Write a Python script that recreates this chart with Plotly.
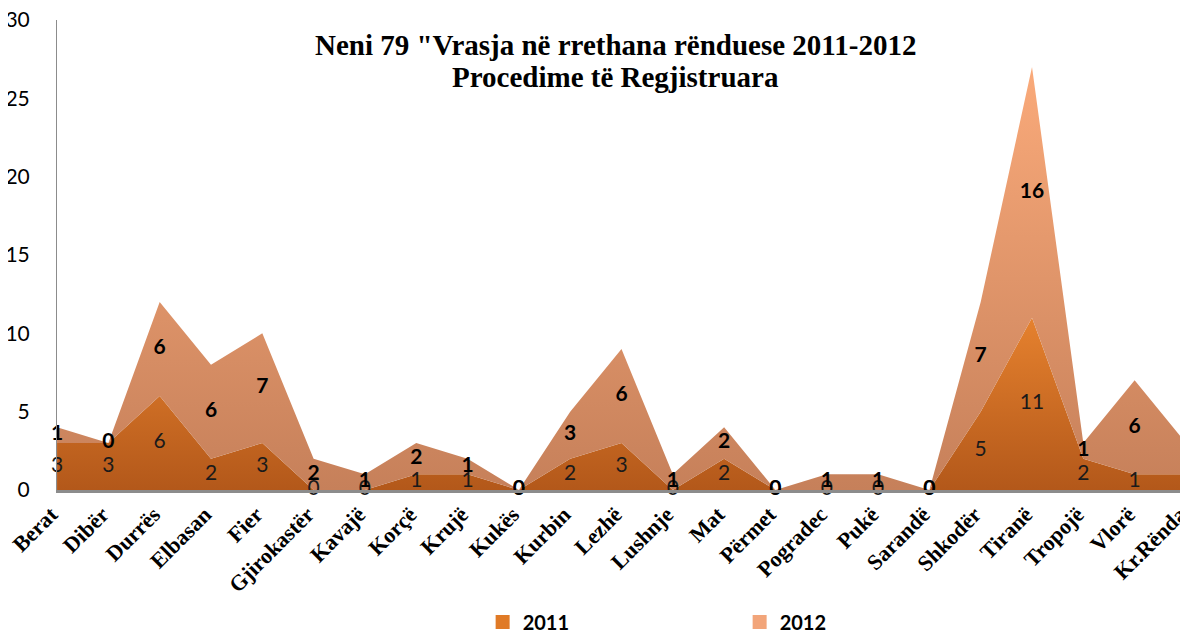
import plotly.graph_objects as go

categories = ["Berat", "Dibër", "Durrës", "Elbasan", "Fier", "Gjirokastër", "Kavajë", "Korçë",
              "Krujë", "Kukës", "Kurbin", "Lezhë", "Lushnje", "Mat", "Përmet", "Pogradec",
              "Pukë", "Sarandë", "Shkodër", "Tiranë", "Tropojë", "Vlorë", "Kr.Rënda"]
values_2011 = [3, 3, 6, 2, 3, 0, 0, 1, 1, 0, 2, 3, 0, 2, 0, 0, 0, 0, 5, 11, 2, 1, 1]
values_2012 = [1, 0, 6, 6, 7, 2, 1, 2, 1, 0, 3, 6, 1, 2, 0, 1, 1, 0, 7, 16, 1, 6, 2]
y_ticks = [0, 5, 10, 15, 20, 25, 30]
title_lines = ["Neni 79 \"Vrasja në rrethana rënduese 2011-2012", "Procedime të Regjistruara"]

x = list(range(len(categories)))
top_2012 = [a + b for a, b in zip(values_2011, values_2012)]
mid_2011 = [a / 2 for a in values_2011]
mid_2012 = [a + b / 2 for a, b in zip(values_2011, values_2012)]

SERIF = "Liberation Serif, Times New Roman, serif"
SANS = "Lato, sans-serif"

fig = go.Figure()
fig.add_trace(go.Scatter(
    x=x, y=values_2011, mode="lines", line=dict(width=0, color="#D06A1E"),
    fill="tozeroy",
    fillgradient=dict(type="vertical", start=0, stop=12,
                      colorscale=[[0, "#B3581A"], [1, "#EA8530"]]),
    showlegend=False, hoverinfo="skip"))
fig.add_trace(go.Scatter(
    x=x, y=top_2012, mode="lines", line=dict(width=0, color="#E09870"),
    fill="tonexty",
    fillgradient=dict(type="vertical", start=0, stop=27,
                      colorscale=[[0, "#C6805A"], [1, "#FAAA7A"]]),
    showlegend=False, hoverinfo="skip"))

fig.add_trace(go.Scatter(
    x=x, y=mid_2011, mode="text", text=[str(v) for v in values_2011],
    textfont=dict(family=SANS, size=21, color="#1a1a1a"),
    showlegend=False, hoverinfo="skip", cliponaxis=False))
fig.add_trace(go.Scatter(
    x=x, y=mid_2012, mode="text", text=[f"<b>{v}</b>" for v in values_2012],
    textfont=dict(family=SANS, size=21, color="#000000"),
    showlegend=False, hoverinfo="skip", cliponaxis=False))

fig.add_trace(go.Scatter(x=[None], y=[None], mode="markers", name="<b>2011</b>",
                         marker=dict(symbol="square", size=14, color="#E07A26")))
fig.add_trace(go.Scatter(x=[None], y=[None], mode="markers", name="<b>2012</b>",
                         marker=dict(symbol="square", size=14, color="#F2A57A")))

for line_text, ypos in zip(title_lines, [0.947, 0.879]):
    fig.add_annotation(
        text=f"<b>{line_text}</b>", xref="paper", yref="paper", x=0.495, y=ypos,
        yanchor="middle", showarrow=False,
        font=dict(family=SERIF, size=29, color="#000000"))

# page body has an 8px margin, so the figure is sized/offset to compensate
fig.update_layout(
    width=1180, height=625,
    margin=dict(l=49, r=2, t=12, b=143, autoexpand=False),
    paper_bgcolor="white", plot_bgcolor="white",
    xaxis=dict(tickmode="array", tickvals=x, ticktext=[f"<b>{c}</b>" for c in categories],
               range=[-0.001, len(categories) - 1 + 0.001], automargin=False,
               ticklabeloverflow="allow", ticklabelshift=-6,
               tickangle=-45, showgrid=False, zeroline=False, showline=True,
               linecolor="#8c8c8c", linewidth=3, ticks="",
               tickfont=dict(family=SERIF, size=22, color="#000000")),
    yaxis=dict(range=[0, 30], tickvals=y_ticks, showgrid=False, zeroline=False,
               showline=True, linecolor="#8c8c8c", linewidth=1, ticks="", automargin=False,
               ticklabelstandoff=22, ticklabeloverflow="allow",
               tickfont=dict(family=SANS, size=21, color="#000000")),
    legend=dict(orientation="h", x=0.377, y=-0.281, xanchor="left", yanchor="middle",
                traceorder="normal", entrywidth=212, entrywidthmode="pixels",
                font=dict(family=SANS, size=20, color="#000000")),
)

fig.write_html("out.html")
